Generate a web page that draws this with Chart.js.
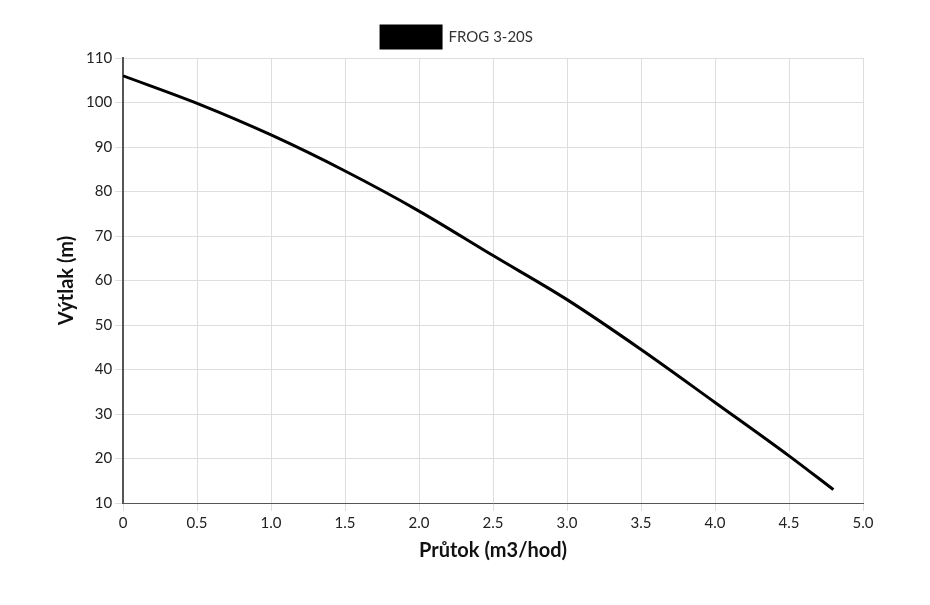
<!DOCTYPE html>
<html><head><meta charset="utf-8">
<script src="https://cdn.jsdelivr.net/npm/chart.js@4"></script>
<style>body{margin:0;background:#fff}#w{width:930px;height:605px}</style>
</head><body><div id="w"><canvas id="c"></canvas></div>
<script>
const seriesName = "FROG 3-20S";
const flow = [0, 0.5, 1.0, 1.5, 2.0, 2.5, 3.0, 3.5, 4.0, 4.5, 4.8];
const head = [106, 99.8, 92.7, 84.6, 75.6, 65.6, 55.7, 44.5, 32.6, 20.6, 13];
const xTickLabels = ["0","0.5","1.0","1.5","2.0","2.5","3.0","3.5","4.0","4.5","5.0"];
const xTitle = "Průtok (m3/hod)";
const yTitle = "Výtlak (m)";
const font = "Lato, 'DejaVu Sans', sans-serif";
new Chart(document.getElementById('c'), {
  type: 'line',
  data: { datasets: [{ label: seriesName, data: flow.map((x,i)=>({x, y: head[i]})),
    borderColor: '#000', backgroundColor: '#000', borderWidth: 3, pointRadius: 0, cubicInterpolationMode: 'monotone', fill: false }] },
  options: {
    responsive: true, maintainAspectRatio: false, animation: false,
    layout: { padding: { left: 51, right: 67, top: 16, bottom: 38 } },
    plugins: { legend: { labels: { boxWidth: 60, boxHeight: 22, color: '#333', font: { family: font, size: 15 } } },
      tooltip: { enabled: false } },
    scales: {
      x: { type: 'linear', min: 0, max: 5, ticks: { stepSize: 0.5, color: '#222', font: { family: font, size: 15 },
          callback: (v, i) => xTickLabels[i] },
        grid: { color: '#dedede' }, border: { color: '#555' },
        title: { display: true, text: xTitle, color: '#111', font: { family: font, size: 20, weight: 'bold' } } },
      y: { min: 10, max: 110, ticks: { stepSize: 10, color: '#222', font: { family: font, size: 15 } },
        grid: { color: '#dedede' }, border: { color: '#555', width: 2 },
        title: { display: true, text: yTitle, color: '#111', font: { family: font, size: 20, weight: 'bold' } } }
    }
  }
});
</script></body></html>
